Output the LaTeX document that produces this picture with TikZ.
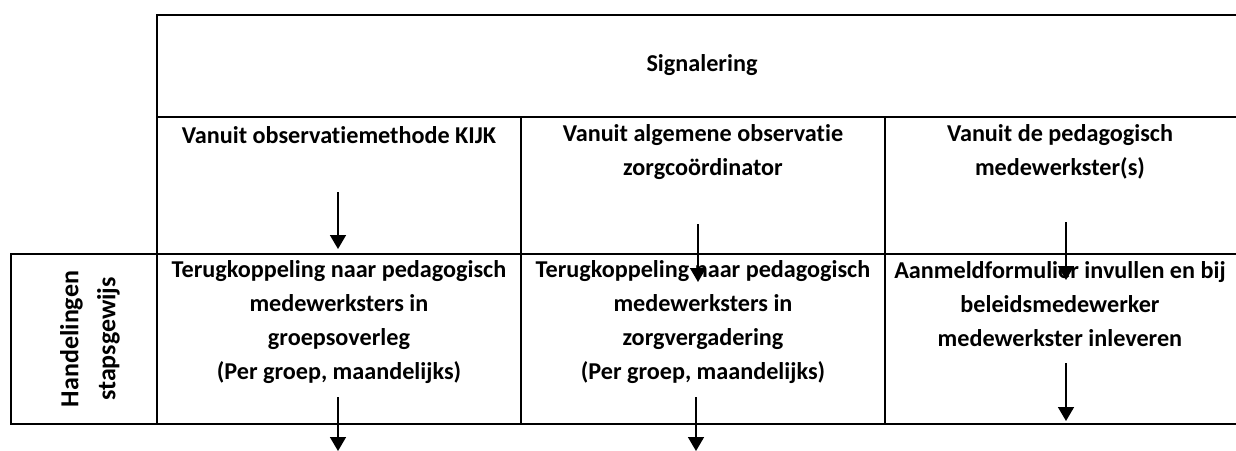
\documentclass[tikz,border=0pt]{standalone}
\usepackage{fontspec}
\setmainfont{Carlito}[Ligatures=NoCommon]
\usetikzlibrary{arrows.meta}

\tikzset{
  cel/.style={align=center, inner sep=0pt, anchor=center,
    font=\bfseries\fontsize{12.1}{17}\selectfont},
  pijl/.style={-{Triangle[width=8pt,length=7pt]}, line width=0.8pt},
}

\begin{document}
\begin{tikzpicture}[x=0.5pt, y=-0.5pt, line width=1pt]
        \useasboundingbox (0,0) rectangle (1236,450);
        % raster
        \draw (1236,15) -- (157,15) -- (157,424);
        \draw (157,117) -- (1236,117);
        \draw (1236,254) -- (11,254) -- (11,424) -- (1236,424);
        \draw (521,117) -- (521,424);
        \draw (885,117) -- (885,424);
        % teksten
        \node[cel] (sig) at (702,65) {Signalering};
        \node[cel] (kijk) at (339,135) {Vanuit observatiemethode KIJK};
        \node[cel] (alg) at (703,152) {Vanuit algemene observatie\\zorgco\"ordinator};
        \node[cel] (ped) at (1060,152) {Vanuit de pedagogisch\\medewerkster(s)};
        \node[cel, rotate=90, font=\bfseries\fontsize{13}{18.5}\selectfont] (hand) at (90,339) {Handelingen\\stapsgewijs};
        \node[cel] (terug1) at (339,322) {Terugkoppeling naar pedagogisch\\medewerksters in\\groepsoverleg\\(Per groep, maandelijks)};
        \node[cel] (terug2) at (703,322) {Terugkoppeling naar pedagogisch\\medewerksters in\\zorgvergadering\\(Per groep, maandelijks)};
        \node[cel] (aanm) at (1060,304) {Aanmeldformulier invullen en bij\\beleidsmedewerker\\medewerkster inleveren};
        % pijlen
        \coordinate (k1a) at (338,192);
        \coordinate (k1b) at (338,249);
        \coordinate (k2a) at (698,224);
        \coordinate (k2b) at (698,282);
        \coordinate (k3a) at (1066,222);
        \coordinate (k3b) at (1066,280);
        \coordinate (r1a) at (338,397);
        \coordinate (r1b) at (338,451);
        \coordinate (r2a) at (696,397);
        \coordinate (r2b) at (696,451);
        \coordinate (r3a) at (1066,363);
        \coordinate (r3b) at (1066,421);
        \draw[pijl] (k1a) -- (k1b);
        \draw[pijl] (k2a) -- (k2b);
        \draw[pijl] (k3a) -- (k3b);
        \draw[pijl] (r1a) -- (r1b);
        \draw[pijl] (r2a) -- (r2b);
        \draw[pijl] (r3a) -- (r3b);
      \end{tikzpicture}
\end{document}
